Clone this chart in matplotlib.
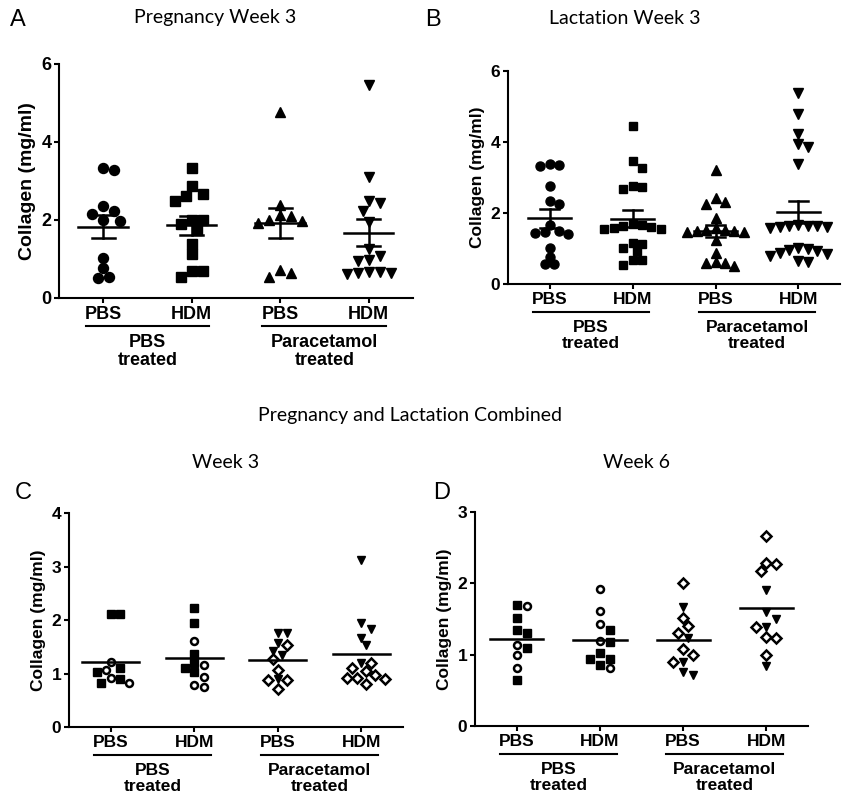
import matplotlib
matplotlib.use('Agg')
import matplotlib.pyplot as plt
import numpy as np
from matplotlib.transforms import offset_copy

# ---- data (collagen, mg/ml) ----
group_labels = ['PBS', 'HDM', 'PBS', 'HDM']
treat_labels = ['PBS\ntreated', 'Paracetamol\ntreated']

# A: pregnancy week 3
a_pbs = [3.28, 3.34, 2.36, 2.15, 2.22, 1.98, 2.00, 1.02, 0.76, 0.51, 0.54]
a_hdm = [3.34, 2.86, 2.62, 2.49, 2.66, 2.00, 2.00, 1.89, 1.75, 1.39, 1.13, 0.68, 0.54, 0.68]
a_par_pbs = [4.78, 2.39, 2.09, 2.13, 1.98, 2.00, 1.92, 0.73, 0.54, 0.64]
a_par_hdm = [5.46, 3.10, 2.43, 2.49, 2.24, 1.96, 1.25, 1.08, 0.98, 0.94,
             0.66, 0.64, 0.62, 0.64, 0.66]

# B: lactation week 3
b_pbs = [3.35, 3.31, 3.38, 2.76, 2.34, 2.25, 1.65, 1.45, 1.43, 1.48, 1.40,
         1.01, 0.76, 0.56, 0.56]
b_hdm = [4.45, 3.47, 3.28, 2.76, 2.68, 2.73, 1.65, 1.55, 1.62, 1.68, 1.55,
         1.60, 1.58, 1.15, 1.13, 1.01, 0.92, 0.68, 0.68, 0.54]
b_par_pbs = [3.21, 2.31, 2.25, 2.42, 1.86, 1.50, 1.45, 1.52, 1.58, 1.48, 1.45,
             1.52, 1.24, 0.87, 0.59, 0.51, 0.62, 0.60]
b_par_hdm = [5.39, 4.78, 4.22, 3.94, 3.87, 3.38, 1.62, 1.60, 1.62, 1.66, 1.60,
             1.62, 1.58, 1.01, 0.98, 0.96, 0.92, 0.88, 0.84, 0.80, 0.66, 0.62]

# C: combined week 3 (pregnancy = filled, lactation = open)
c_pbs_preg = [2.12, 2.12, 1.10, 1.02, 0.90, 0.82]
c_pbs_lact = [1.21, 1.07, 0.92, 0.82]
c_hdm_preg = [2.22, 1.95, 1.37, 1.20, 1.10, 1.02]
c_hdm_lact = [1.61, 1.16, 0.94, 0.75, 0.79]
c_par_pbs_preg = [1.76, 1.76, 1.57, 1.43, 1.34, 0.90]
c_par_pbs_lact = [1.53, 1.27, 1.07, 0.88, 0.72, 0.88]
c_par_hdm_preg = [3.13, 1.95, 1.84, 1.67, 1.53, 1.20]
c_par_hdm_lact = [1.19, 1.10, 1.05, 0.92, 0.97, 0.90, 0.80, 0.92]

# D: combined week 6
d_pbs_preg = [1.70, 1.52, 1.30, 1.35, 1.09, 0.65]
d_pbs_lact = [1.68, 1.14, 1.00, 0.81]
d_hdm_preg = [1.35, 1.18, 0.94, 1.02, 0.94, 0.86]
d_hdm_lact = [1.92, 1.61, 1.43, 1.19, 0.81]
d_par_pbs_preg = [1.67, 1.23, 0.90, 0.72, 0.75]
d_par_pbs_lact = [2.00, 1.51, 1.40, 1.30, 1.08, 1.00, 0.90]
d_par_hdm_preg = [1.91, 1.60, 1.50, 1.39, 0.84]
d_par_hdm_lact = [2.66, 2.27, 2.17, 2.28, 1.39, 1.25, 1.23, 1.00]

BOLD = 'Liberation Sans'
TITLE = 'Lato'

fig = plt.figure(figsize=(8.46, 7.97), dpi=100)


def swarm_x(ax, xc, vals, diam):
    vals = np.asarray(vals, float)
    pts = ax.transData.transform(np.column_stack([np.full(len(vals), xc), vals]))
    ypx = pts[:, 1]
    steps = [0.0]
    for k in range(1, 14):
        steps += [k * diam * 0.55, -k * diam * 0.55]
    placed = []
    xpx = np.zeros(len(vals))
    for i in np.argsort(-vals):
        for dx in steps:
            if all((dx - px) ** 2 + (ypx[i] - py) ** 2 >= diam ** 2 for px, py in placed):
                break
        placed.append((dx, ypx[i]))
        xpx[i] = dx
    unit = ax.transData.transform([[1, 0]])[0, 0] - ax.transData.transform([[0, 0]])[0, 0]
    return xc + xpx / unit


def setup_axes(rect, ymax, ystep, fs, yfs):
    ax = fig.add_axes(rect)
    ax.set_xlim(-0.5, 3.5)
    ax.set_ylim(0, ymax)
    ax.spines['top'].set_visible(False)
    ax.spines['right'].set_visible(False)
    for s in ['left', 'bottom']:
        ax.spines[s].set_linewidth(1.5)
    ax.set_yticks(np.arange(0, ymax + 0.01, ystep))
    ax.set_yticklabels([str(int(v)) for v in np.arange(0, ymax + 0.01, ystep)],
                       fontfamily=BOLD, fontweight='bold', fontsize=fs)
    ax.set_xticks(range(4))
    ax.set_xticklabels(group_labels, fontfamily=BOLD, fontweight='bold', fontsize=fs)
    ax.tick_params(width=1.5, length=3.5, pad=2)
    ax.set_ylabel('Collagen (mg/ml)', fontfamily=BOLD, fontweight='bold', fontsize=yfs,
                  labelpad=4)
    # treatment brackets below the axis
    tr_line = offset_copy(ax.get_xaxis_transform(), fig=fig, y=-28 * 0.72, units='points')
    tr_text = offset_copy(ax.get_xaxis_transform(), fig=fig, y=-36 * 0.72, units='points')
    for (x0, x1), lab, xm in zip([(-0.2, 1.2), (1.8, 3.2)], treat_labels, [0.5, 2.5]):
        ax.plot([x0, x1], [0, 0], color='black', lw=1.5, transform=tr_line, clip_on=False)
        ax.text(xm, 0, lab, transform=tr_text, ha='center', va='top', fontfamily=BOLD,
                fontweight='bold', fontsize=fs, linespacing=1.1)
    return ax


def mean_sem(ax, xc, vals, hw, cap):
    v = np.asarray(vals, float)
    m = v.mean()
    sem = v.std(ddof=1) / np.sqrt(len(v))
    ax.plot([xc - hw, xc + hw], [m, m], color='black', lw=1.8, zorder=4)
    ax.plot([xc, xc], [m - sem, m + sem], color='black', lw=1.8, zorder=4)
    for y in (m - sem, m + sem):
        ax.plot([xc - cap, xc + cap], [y, y], color='black', lw=1.8, zorder=4)


def mean_only(ax, xc, vals, hw):
    m = np.mean(vals)
    ax.plot([xc - hw, xc + hw], [m, m], color='black', lw=1.8, zorder=4)


# ---- panels A and B ----
fill_styles = [dict(marker='o', ms=7.2), dict(marker='s', ms=6.6),
               dict(marker='^', ms=7.2), dict(marker='v', ms=7.2)]

ax_a = setup_axes([0.0697, 0.6261, 0.4184, 0.2936], 6, 2, 13, 14)
for i, vals in enumerate([a_pbs, a_hdm, a_par_pbs, a_par_hdm]):
    xs = swarm_x(ax_a, i, vals, 10)
    ax_a.plot(xs, vals, ls='none', color='black', mec='black', clip_on=False,
              zorder=3, **fill_styles[i])
    mean_sem(ax_a, i, vals, 0.28, 0.13)

ax_b = setup_axes([0.6005, 0.6437, 0.3924, 0.2673], 6, 2, 12.5, 12.5)
b_styles = [dict(marker='o', ms=6.5), dict(marker='s', ms=6.2),
            dict(marker='^', ms=6.8), dict(marker='v', ms=6.8)]
for i, vals in enumerate([b_pbs, b_hdm, b_par_pbs, b_par_hdm]):
    xs = swarm_x(ax_b, i, vals, 8.5)
    ax_b.plot(xs, vals, ls='none', color='black', mec='black', clip_on=False,
              zorder=3, **b_styles[i])
    mean_sem(ax_b, i, vals, 0.26, 0.12)

# ---- panels C and D ----
preg_mk = ['s', 's', 'v', 'v']
lact_mk = ['o', 'o', 'D', 'D']


def combined(ax, preg_sets, lact_sets, diam, hw):
    for i, (pv, lv) in enumerate(zip(preg_sets, lact_sets)):
        allv = list(pv) + list(lv)
        xs = swarm_x(ax, i, allv, diam)
        n = len(pv)
        ax.plot(xs[:n], pv, ls='none', marker=preg_mk[i], ms=6.0, color='black',
                zorder=3, clip_on=False)
        lms = 5.0 if lact_mk[i] == 'o' else 5.2
        ax.plot(xs[n:], lv, ls='none', marker=lact_mk[i], ms=lms, mfc='white',
                mec='black', mew=1.8, zorder=3, clip_on=False)
        mean_only(ax, i, allv, hw)


ax_c = setup_axes([0.0816, 0.0878, 0.3948, 0.2685], 4, 1, 12.5, 12.5)
combined(ax_c, [c_pbs_preg, c_hdm_preg, c_par_pbs_preg, c_par_hdm_preg],
         [c_pbs_lact, c_hdm_lact, c_par_pbs_lact, c_par_hdm_lact], 8.5, 0.34)

ax_d = setup_axes([0.5615, 0.0891, 0.3936, 0.2685], 3, 1, 12.5, 12.5)
combined(ax_d, [d_pbs_preg, d_hdm_preg, d_par_pbs_preg, d_par_hdm_preg],
         [d_pbs_lact, d_hdm_lact, d_par_pbs_lact, d_par_hdm_lact], 9, 0.32)

# ---- titles and panel letters ----
W, H = 846, 797


def ftext(x, y, s, **kw):
    fig.text(x / W, 1 - y / H, s, ha='center', va='center', **kw)


ftext(215, 18, 'Pregnancy Week 3', fontfamily=TITLE, fontsize=14)
ftext(625, 18, 'Lactation Week 3', fontfamily=TITLE, fontsize=14)
ftext(410, 416, 'Pregnancy and Lactation Combined', fontfamily=TITLE, fontsize=14)
ftext(226, 463, 'Week 3', fontfamily=TITLE, fontsize=14)
ftext(636, 463, 'Week 6', fontfamily=TITLE, fontsize=14)
for lab, x, y in [('A', 18, 20), ('B', 433, 20), ('C', 23, 493), ('D', 442, 493)]:
    ftext(x, y, lab, fontfamily='Liberation Sans', fontsize=17)

fig.savefig('out.png', dpi=100)
